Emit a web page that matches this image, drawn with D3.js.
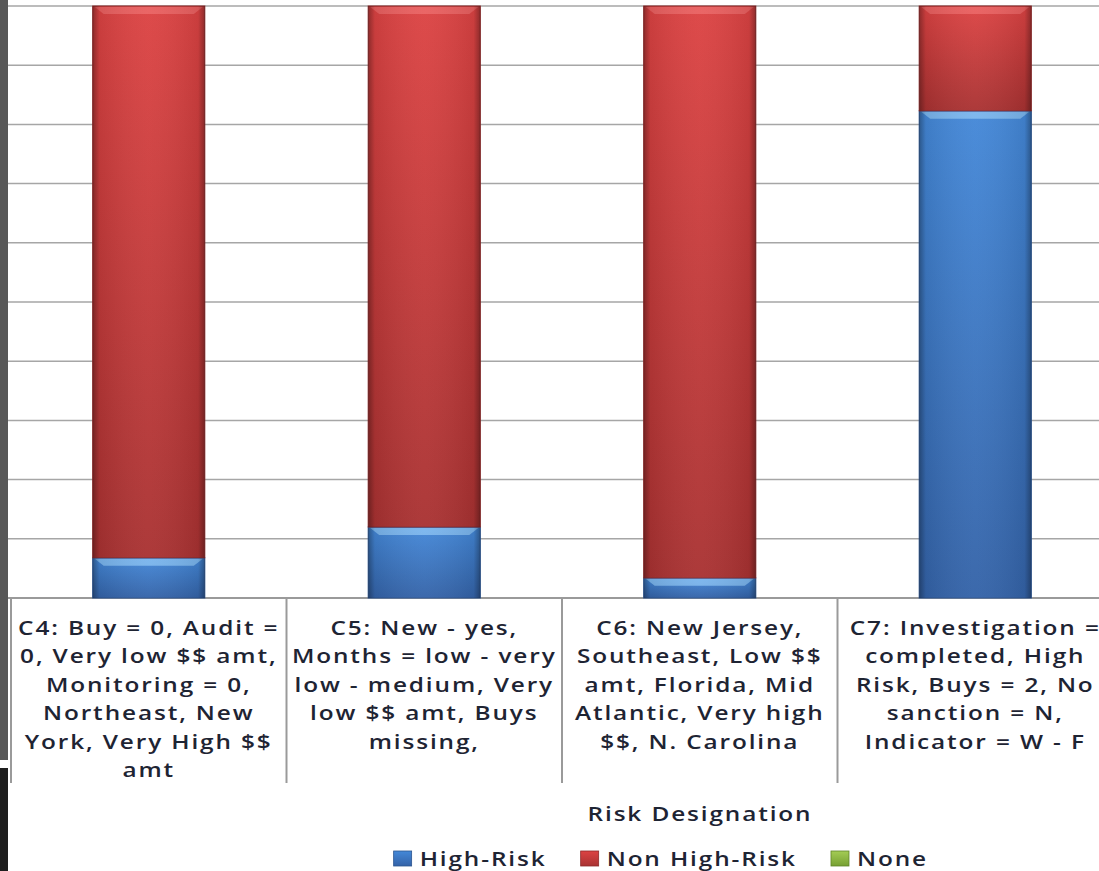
<!DOCTYPE html>
<html>
<head>
<meta charset="utf-8">
<script src="https://cdn.jsdelivr.net/npm/d3@7"></script>
<style>
  body { margin: 0; background: #fff; }
  svg { display: block; }
  text { font-family: "Open Sans", sans-serif; fill: #1e2433; }
</style>
</head>
<body>
<div id="chart"></div>
<script>
// categories and stacked shares (percent)
const categories = ["C4", "C5", "C6", "C7"];
const highRisk = [6.8, 12.0, 3.4, 82.3];
const nonHighRisk = [93.2, 88.0, 96.6, 17.7];
const none = [0, 0, 0, 0];
const seriesNames = ["High-Risk", "Non High-Risk", "None"];
const yTicks = d3.range(0, 101, 10);

const tickLabels = [
  ["C4: Buy = 0, Audit =", "0, Very low $$ amt,", "Monitoring = 0,", "Northeast, New", "York, Very High $$", "amt"],
  ["C5: New - yes,", "Months = low - very", "low - medium, Very", "low $$ amt, Buys", "missing,"],
  ["C6: New Jersey,", "Southeast, Low $$", "amt, Florida, Mid", "Atlantic, Very high", "$$, N. Carolina"],
  ["C7: Investigation =", "completed, High", "Risk, Buys = 2, No", "sanction = N,", "Indicator = W - F"]
];

const W = 1099, H = 871;
const margin = {top: 6, left: 11};
const plotBottom = 598;
const plotRight = 11 + 4 * 275.5;
const fontSize = 19.5, sx = 1.25, spacing = 1.5;

const svg = d3.select("#chart").append("svg")
  .attr("width", W).attr("height", H);

const defs = svg.append("defs");
function vgrad(id, stops) {
  const g = defs.append("linearGradient").attr("id", id)
    .attr("x1", 0).attr("y1", 0).attr("x2", 0).attr("y2", 1);
  stops.forEach(s => g.append("stop").attr("offset", s[0]).attr("stop-color", s[1]));
}
vgrad("gRed", [[0, "#dc4343"], [1, "#a93232"]]);
vgrad("gBlue", [[0, "#4488d8"], [1, "#3463a8"]]);
vgrad("gGreen", [[0, "#a4cc55"], [1, "#76a032"]]);
const side = defs.append("linearGradient").attr("id", "gSide")
  .attr("x1", 0).attr("y1", 0).attr("x2", 1).attr("y2", 0);
[[0, "#000", 0.35], [0.06, "#000", 0.08], [0.5, "#fff", 0.04], [0.94, "#000", 0.08], [1, "#000", 0.35]]
  .forEach(s => side.append("stop").attr("offset", s[0]).attr("stop-color", s[1]).attr("stop-opacity", s[2]));
const hiColor = {"High-Risk": "#8cc4f4", "Non High-Risk": "#ee6a6a", "None": "#c4e07a"};

const x = d3.scaleBand()
  .domain(categories)
  .range([margin.left, plotRight])
  .paddingInner(0.593).paddingOuter(0.2965);

const y = d3.scaleLinear().domain([0, 100]).range([plotBottom, margin.top]);

// gridlines
svg.append("g").selectAll("line")
  .data(yTicks)
  .join("line")
  .attr("x1", 8).attr("x2", W)
  .attr("y1", d => y(d)).attr("y2", d => y(d))
  .attr("stroke", d => d === 0 ? "#9a9a9a" : "#a6a6a6")
  .attr("stroke-width", d => d === 0 ? 2 : 1.5);

// stacked bars
const rows = categories.map((c, i) => ({cat: c, "High-Risk": highRisk[i], "Non High-Risk": nonHighRisk[i], "None": none[i]}));
const stack = d3.stack().keys(seriesNames)(rows);
const fills = {"High-Risk": "url(#gBlue)", "Non High-Risk": "url(#gRed)", "None": "url(#gGreen)"};
const edge = {"High-Risk": "#2c5590", "Non High-Risk": "#8e2a2a", "None": "#5f8428"};

stack.forEach(layer => {
  const g = svg.append("g");
  const segs = g.selectAll("g").data(layer.filter(d => d[1] - d[0] > 0)).join("g");
  segs.append("rect")
    .attr("x", d => x(d.data.cat))
    .attr("y", d => y(d[1]))
    .attr("width", x.bandwidth())
    .attr("height", d => y(d[0]) - y(d[1]))
    .attr("fill", fills[layer.key])
    .attr("stroke", edge[layer.key])
    .attr("stroke-width", 1);
  // bevel highlight on top edge (chamfered)
  segs.append("path")
    .attr("d", d => {
      const x0 = x(d.data.cat) + 2, x1 = x0 + x.bandwidth() - 4, t = y(d[1]) + 1;
      return `M${x0},${t}H${x1}L${x1 - 9},${t + 7}H${x0 + 9}Z`;
    })
    .attr("fill", hiColor[layer.key])
    .attr("opacity", 0.75);
  segs.append("rect")
    .attr("x", d => x(d.data.cat))
    .attr("y", d => y(d[1]))
    .attr("width", x.bandwidth())
    .attr("height", d => y(d[0]) - y(d[1]))
    .attr("fill", "url(#gSide)");
});

// category separators
const seps = d3.range(categories.length + 1).map(i => margin.left + i * x.step());
svg.append("g").selectAll("line")
  .data(seps)
  .join("line")
  .attr("x1", d => d).attr("x2", d => d)
  .attr("y1", plotBottom).attr("y2", 783)
  .attr("stroke", "#9a9a9a").attr("stroke-width", 2);

// tick labels
const lab = svg.append("g").selectAll("g")
  .data(categories)
  .join("g")
  .attr("transform", d => `translate(${x(d) + x.bandwidth() / 2},635) scale(${sx},1)`);
lab.selectAll("text")
  .data((d, i) => tickLabels[i])
  .join("text")
  .attr("text-anchor", "middle")
  .attr("y", (d, i) => i * 28.4)
  .attr("font-size", fontSize)
  .attr("font-weight", 600)
  .attr("letter-spacing", spacing)
  .text(d => d);

// axis title
svg.append("text")
  .attr("transform", `translate(700,821) scale(${sx},1)`)
  .attr("text-anchor", "middle")
  .attr("font-size", fontSize)
  .attr("font-weight", 600)
  .attr("letter-spacing", spacing)
  .text("Risk Designation");

// legend: laid out in sequence, right end near x = 928
const leg = svg.append("g");
const items = leg.selectAll("g").data(seriesNames).join("g");
items.append("rect")
  .attr("y", 851).attr("width", 18).attr("height", 15)
  .attr("fill", d => fills[d])
  .attr("stroke", d => edge[d]).attr("stroke-width", 0.8);
items.append("text")
  .attr("font-size", fontSize)
  .attr("font-weight", 600)
  .attr("letter-spacing", spacing)
  .text(d => d);
let cursor = 0;
const pos = [];
items.each(function() {
  const w = d3.select(this).select("text").node().getComputedTextLength() * sx;
  pos.push(cursor);
  cursor += 18 + 8 + w + 34;
});
const legStart = 928 - (cursor - 34);
items.each(function(d, i) {
  const g = d3.select(this);
  const x0 = legStart + pos[i];
  g.select("rect").attr("x", x0);
  g.select("text").attr("transform", `translate(${x0 + 26},866) scale(${sx},1)`);
});

// slide edge on the left
svg.append("rect").attr("x", 0).attr("y", 0).attr("width", 8).attr("height", 760).attr("fill", "#585858");
svg.append("rect").attr("x", 0).attr("y", 768).attr("width", 8).attr("height", H - 768).attr("fill", "#1e1e1e");
</script>
</body>
</html>
